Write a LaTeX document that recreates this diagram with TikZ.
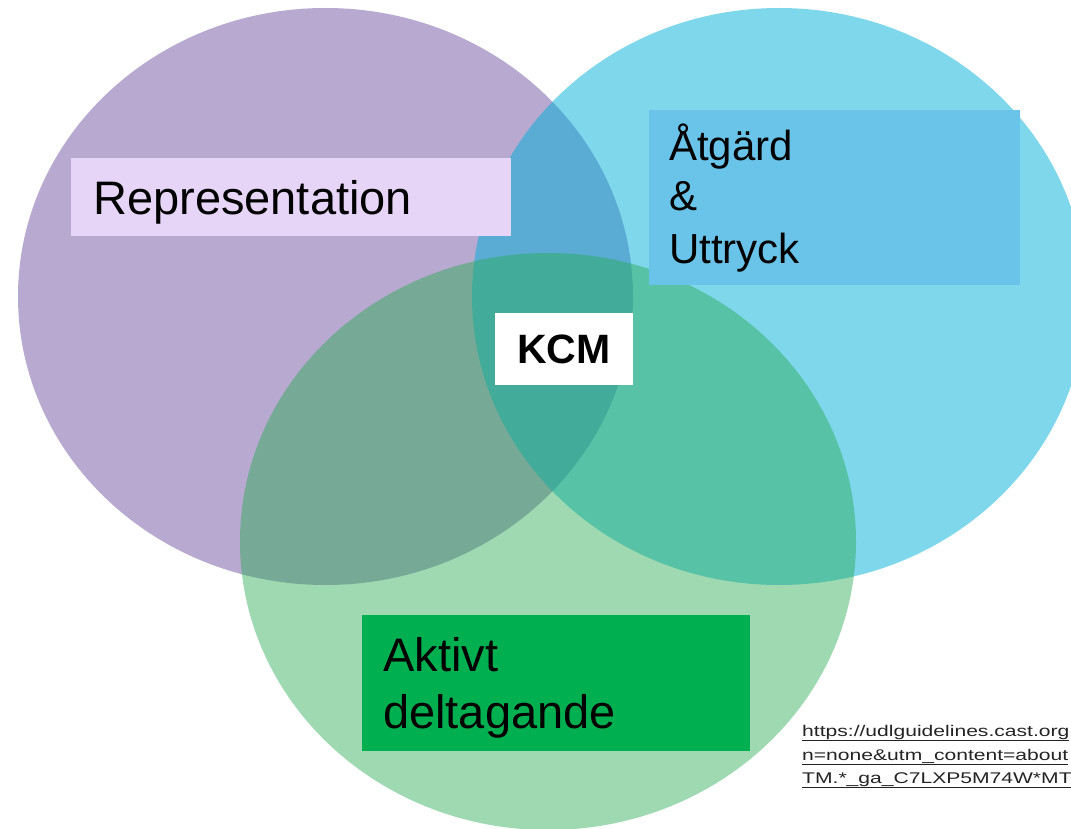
\documentclass[tikz,border=0pt]{standalone}
\usepackage{fontspec}
\setmainfont{Liberation Sans}
\usepackage{tikz}
\usetikzlibrary{positioning}

\definecolor{reprpurple}{RGB}{183,169,207}
\definecolor{actcyan}{RGB}{0,175,218}
\definecolor{partgreen}{RGB}{39,170,82}
\definecolor{reprfill}{RGB}{231,213,248}
\definecolor{actfill}{RGB}{106,196,234}
\definecolor{partfill}{RGB}{0,176,80}
\definecolor{linkgray}{RGB}{35,35,35}

\newcommand{\linkline}[1]{\scalebox{1.36}[1]{\underline{#1}}}

\begin{document}
\begin{tikzpicture}[x=1pt, y=-1pt,
  big/.style={anchor=base west, inner sep=0pt, font=\fontsize{47}{56}\selectfont},
  mid/.style={anchor=base west, inner sep=0pt, font=\fontsize{42}{50}\selectfont},
  link/.style={anchor=base west, inner sep=0pt, text=linkgray, font=\fontsize{15.5}{23}\selectfont},
  panel/.style={anchor=north west, inner sep=0pt}]
\useasboundingbox (0,0) rectangle (1071,829);
\clip (0,0) rectangle (1071,829);

\fill [reprpurple] (325.5,296.5) ellipse [x radius=307.5, y radius=288.5];
\fill [actcyan, opacity=0.5] (779,296.5) ellipse [x radius=307, y radius=288.5];
\fill [partgreen, opacity=0.45] (548,541.5) ellipse [x radius=308, y radius=288.5];

\node [panel, fill=reprfill, minimum width=440pt, minimum height=78pt] (reprpanel) at (71,158) {};
\node [panel, fill=actfill, minimum width=371pt, minimum height=175pt] (actpanel) at (649,110) {};
\node [panel, fill=partfill, minimum width=388pt, minimum height=136pt] (partpanel) at (362,615) {};
\node [fill=white, inner sep=0pt, minimum width=138pt, minimum height=72pt, font=\bfseries\fontsize{41}{49}\selectfont] (kcm) at (564,349) {KCM};

\node [big] (repr) at (93,215) {Representation};

\node [mid] (act1) at (669,161) {Åtgärd};
\node [mid] (act2) at (669,211) {\&};
\node [mid] (act3) at (669,263) {Uttryck};

\node [big] (part1) at (383,671) {Aktivt};
\node [big] (part2) at (383,728) {deltagande};

\node [link] (url1) at (802,736) {\linkline{https://udlguidelines.cast.org}};
\node [link] (url2) at (802,760) {\linkline{n=none\&utm\_content=about}};
\node [link] (url3) at (802,783) {\linkline{TM.*\_ga\_C7LXP5M74W*MT}};

\end{tikzpicture}
\end{document}
